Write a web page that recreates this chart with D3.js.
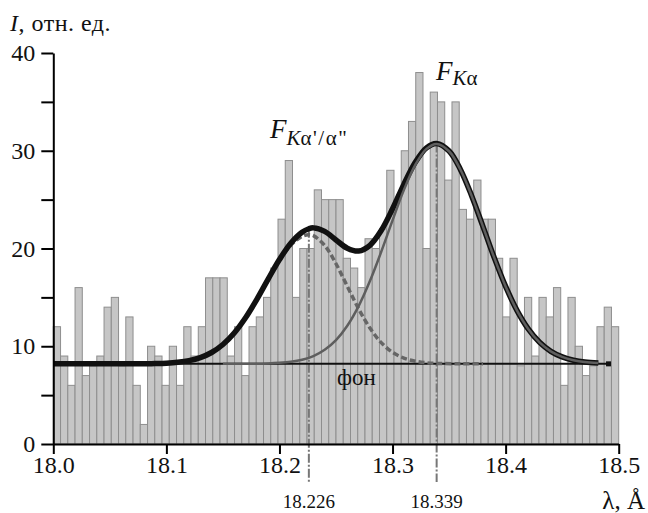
<!DOCTYPE html>
<html>
<head>
<meta charset="utf-8">
<script src="https://cdn.jsdelivr.net/npm/d3@7"></script>
<style>
  body { margin: 0; background: #fff; }
  svg { display: block; }
</style>
</head>
<body>
<script>
  // histogram counts, 78 bins from 18.0 to 18.5 Å
  const counts = [12, 9, 6, 16, 7, 8, 9, 14, 15, 8,
                  13, 6, 2, 10, 9, 6, 10, 6, 12, 9,
                  12, 17, 17, 17, 9, 12, 7, 12, 13, 15,
                  18, 23, 29, 15, 20, 20, 26, 25, 25, 25,
                  19, 18, 16, 21, 20, 22, 28, 25, 30, 33,
                  38, 20, 36, 35, 27, 35, 24, 23, 27, 23,
                  23, 19, 13, 19, 8, 15, 9, 15, 13, 16,
                  6, 15, 10, 7, 8, 12, 14, 12];
  const binStart = 18.0;
  const binEnd = 18.5;

  // total fit curve (thick black)
  const sumX = [18.00, 18.02, 18.04, 18.06, 18.08, 18.09, 18.10, 18.11, 18.12, 18.13,
                18.14, 18.15, 18.16, 18.17, 18.18, 18.19, 18.20, 18.21, 18.22, 18.226,
                18.23, 18.24, 18.25, 18.26, 18.27, 18.28, 18.29, 18.30, 18.31, 18.32,
                18.33, 18.339, 18.35, 18.36, 18.37, 18.38, 18.39, 18.40, 18.41, 18.42,
                18.43, 18.44, 18.45, 18.46, 18.47, 18.482];
  const sumY = [8.20, 8.20, 8.20, 8.20, 8.21, 8.23, 8.27, 8.36, 8.53, 8.84,
                9.36, 10.18, 11.36, 12.92, 14.80, 16.87, 18.87, 20.54, 21.66, 22.02,
                22.11, 21.75, 20.87, 20.03, 19.74, 20.33, 21.84, 24.06, 26.56, 28.80,
                30.30, 30.75, 29.97, 28.09, 25.38, 22.24, 19.04, 16.12, 13.67, 11.77,
                10.40, 9.48, 8.91, 8.57, 8.38, 8.28];

  // F Kα'/α'' component (dashed)
  const dashX = [18.10, 18.11, 18.12, 18.13, 18.14, 18.15, 18.16, 18.17, 18.18, 18.19,
                 18.20, 18.21, 18.22, 18.226, 18.23, 18.24, 18.25, 18.26, 18.27, 18.28,
                 18.29, 18.30, 18.31, 18.32, 18.33, 18.34, 18.36, 18.38];
  const dashY = [8.27, 8.36, 8.53, 8.84, 9.36, 10.18, 11.35, 12.91, 14.78, 16.82,
                 18.77, 20.33, 21.24, 21.40, 21.31, 20.31, 18.44, 16.13, 13.83, 11.86,
                 10.37, 9.38, 8.79, 8.47, 8.31, 8.24, 8.21, 8.20];

  // F Kα component (grey)
  const kaX = [18.15, 18.17, 18.19, 18.20, 18.21, 18.22, 18.23, 18.24, 18.25, 18.26,
               18.27, 18.28, 18.29, 18.30, 18.31, 18.32, 18.33, 18.339, 18.35, 18.36,
               18.37, 18.38, 18.39, 18.40, 18.41, 18.42, 18.43, 18.44, 18.45, 18.46,
               18.47, 18.482];
  const kaY = [8.20, 8.21, 8.24, 8.30, 8.41, 8.62, 9.00, 9.64, 10.63, 12.10,
               14.11, 16.67, 19.67, 22.88, 25.97, 28.53, 30.19, 30.70, 29.95, 28.08,
               25.38, 22.24, 19.04, 16.12, 13.67, 11.77, 10.40, 9.48, 8.91, 8.57,
               8.38, 8.28];

  const background = 8.2;
  const bgRange = [18.0, 18.491];
  const peaks = [{ x: 18.226, top: 22.02, label: '18.226' },
                 { x: 18.339, top: 30.75, label: '18.339' }];

  const yTicks = [0, 5, 10, 15, 20, 25, 30, 35, 40];
  const xTicks = [18.0, 18.1, 18.2, 18.3, 18.4, 18.5];

  const width = 648;
  const height = 513;
  const serif = '"Liberation Serif"';

  const svg = d3.select('body')
          .append('svg')
          .attr('width', width)
          .attr('height', height);

  const x = d3.scaleLinear().domain([18.0, 18.5]).range([53.3, 618.7]);
  const y = d3.scaleLinear().domain([0, 40]).range([444, 53]);

  // bars
  const bw = (binEnd - binStart) / counts.length;
  svg.append('g')
          .selectAll('rect')
          .data(counts)
          .enter()
          .append('rect')
          .attr('x', (d, i) => x(binStart + i * bw))
          .attr('width', (d, i) => x(binStart + (i + 1) * bw) - x(binStart + i * bw))
          .attr('y', d => y(d))
          .attr('height', d => y(0) - y(d))
          .attr('fill', '#c6c6c6')
          .attr('stroke', '#8e8e8e')
          .attr('stroke-width', 1);

  // dash-dot lines at the peak positions
  svg.append('g')
          .selectAll('line')
          .data(peaks)
          .enter()
          .append('line')
          .attr('x1', d => x(d.x))
          .attr('x2', d => x(d.x))
          .attr('y1', d => y(d.top))
          .attr('y2', 482)
          .attr('stroke', '#777')
          .attr('stroke-width', 2)
          .attr('stroke-dasharray', '9,2,2,2');

  svg.append('g')
          .selectAll('text')
          .data(peaks)
          .enter()
          .append('text')
          .attr('x', d => x(d.x))
          .attr('y', 508)
          .attr('text-anchor', 'middle')
          .style('font-family', serif)
          .style('font-size', '19px')
          .attr('fill', '#111')
          .text(d => d.label);

  // background line
  svg.append('line')
          .attr('x1', x(bgRange[0]))
          .attr('x2', x(bgRange[1]))
          .attr('y1', y(background))
          .attr('y2', y(background))
          .attr('stroke', '#111')
          .attr('stroke-width', 2);
  svg.append('rect')
          .attr('x', x(bgRange[1]) - 2.5)
          .attr('y', y(background) - 2.5)
          .attr('width', 5)
          .attr('height', 5)
          .attr('fill', '#111');

  const line = (xs, ys) => d3.line()
          .x(i => x(xs[i]))
          .y(i => y(ys[i]))
          .curve(d3.curveCatmullRom)(d3.range(xs.length));

  svg.append('path')
          .attr('d', line(dashX, dashY))
          .attr('fill', 'none')
          .attr('stroke', '#666')
          .attr('stroke-width', 3.5)
          .attr('stroke-dasharray', '6,3');

  svg.append('path')
          .attr('d', line(sumX, sumY))
          .attr('fill', 'none')
          .attr('stroke', '#111')
          .attr('stroke-width', 5.5)
          .attr('stroke-linejoin', 'round');

  svg.append('path')
          .attr('d', line(kaX, kaY))
          .attr('fill', 'none')
          .attr('stroke', '#5e5e5e')
          .attr('stroke-width', 2.5);

  svg.append('text')
          .attr('x', 337)
          .attr('y', 385)
          .style('font-family', serif)
          .style('font-size', '23px')
          .attr('fill', '#111')
          .text('фон');

  // axes
  const yAxis = svg.append('g')
          .attr('transform', `translate(${x(18.0)},0)`)
          .call(d3.axisLeft(y)
                  .tickValues(yTicks)
                  .tickSize(12)
                  .tickSizeOuter(0)
                  .tickPadding(6)
                  .tickFormat(d => d % 10 === 0 ? d : ''));

  const xAxis = svg.append('g')
          .attr('transform', `translate(0,${y(0)})`)
          .call(d3.axisBottom(x)
                  .tickValues(xTicks)
                  .tickSize(10)
                  .tickSizeOuter(0)
                  .tickPadding(2)
                  .tickFormat(d3.format('.1f')));

  [yAxis, xAxis].forEach(g => {
    g.select('.domain').attr('stroke', '#000').attr('stroke-width', 2);
    g.selectAll('.tick line').attr('stroke', '#000').attr('stroke-width', 2);
    g.selectAll('.tick text')
            .style('font-family', serif)
            .style('font-size', '24px')
            .attr('fill', '#111');
  });

  // axis titles
  const yTitle = svg.append('text').attr('x', 10).attr('y', 31)
          .style('font-family', serif).style('font-size', '24px')
          .style('letter-spacing', '0.5px').attr('fill', '#111');
  yTitle.append('tspan').style('font-style', 'italic').text('I');
  yTitle.append('tspan').text(', отн. ед.');

  svg.append('text')
          .attr('x', 645)
          .attr('y', 509)
          .attr('text-anchor', 'end')
          .style('font-family', serif)
          .style('font-size', '25px')
          .attr('fill', '#111')
          .text('λ, Å');

  // peak labels
  const lab1 = svg.append('text').attr('x', 270).attr('y', 138)
          .style('font-family', serif).style('font-size', '27px').attr('fill', '#111');
  lab1.append('tspan').style('font-style', 'italic').text('F');
  lab1.append('tspan').style('font-size', '21px').attr('dy', 7).style('font-style', 'italic').text('K');
  lab1.append('tspan').style('font-size', '21px').style('letter-spacing', '1.5px').text('α\'/α"');

  const lab2 = svg.append('text').attr('x', 436).attr('y', 80)
          .style('font-family', serif).style('font-size', '27px').attr('fill', '#111');
  lab2.append('tspan').style('font-style', 'italic').text('F');
  lab2.append('tspan').style('font-size', '21px').attr('dy', 5).style('font-style', 'italic').text('K');
  lab2.append('tspan').style('font-size', '21px').text('α');
</script>
</body>
</html>
